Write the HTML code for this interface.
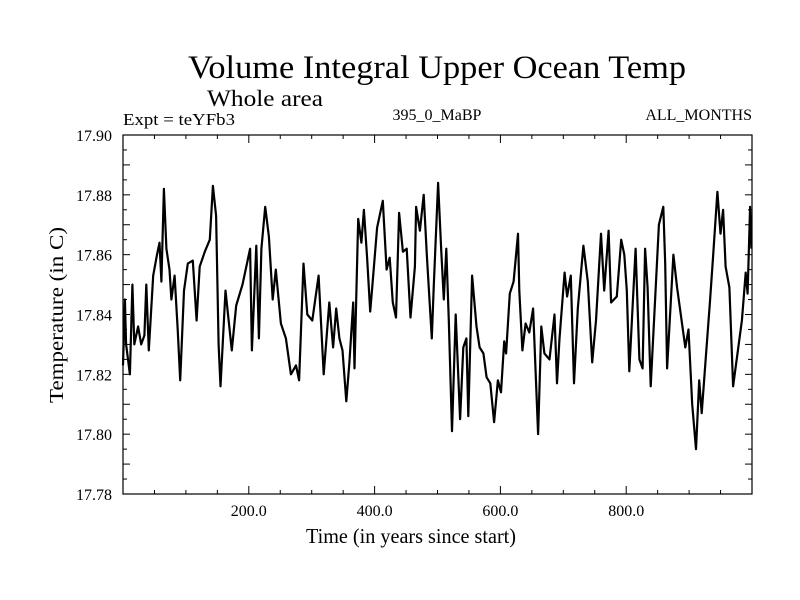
<!DOCTYPE html>
<html><head><meta charset="utf-8"><style>
html,body{margin:0;padding:0;background:#fff;}
svg{display:block;font-family:"Liberation Serif",serif;}
</style></head><body>
<svg id="chart" width="800" height="600" viewBox="0 0 800 600">
<rect width="800" height="600" fill="#fff"/>
<text x="437" y="78" font-size="33" text-anchor="middle" textLength="498" lengthAdjust="spacingAndGlyphs">Volume Integral Upper Ocean Temp</text>
<text x="207" y="106" font-size="23" textLength="116" lengthAdjust="spacingAndGlyphs">Whole area</text>
<text x="123" y="125" font-size="17" textLength="112" lengthAdjust="spacingAndGlyphs">Expt = teYFb3</text>
<text x="437" y="120" font-size="16" text-anchor="middle">395_0_MaBP</text>
<text x="752" y="120" font-size="16" text-anchor="end">ALL_MONTHS</text>
<g id="axes"></g>
<g id="series"></g>
<text x="411" y="543" font-size="21" text-anchor="middle" textLength="210" lengthAdjust="spacingAndGlyphs">Time (in years since start)</text>
<text transform="translate(63,315) rotate(-90)" font-size="20" text-anchor="middle" textLength="176" lengthAdjust="spacingAndGlyphs">Temperature (in C)</text>
</svg>
<script>
const years = [0,3,5,11,15,18,24,29,34,37,41,48,54,58,61,65,69,74,77,82,87,91,97,103,111,117,122,130,138,143,148,152,155,163,173,180,190,202,205,212,216,220,226,232,238,243,251,259,267,275,280,287,293,301,311,319,328,334,339,344,349,355,360,366,368,374,379,383,388,393,397,404,413,419,424,429,434,439,445,451,457,464,466,472,478,483,491,494,501,506,510,514,518,523,529,536,541,546,549,555,562,567,573,578,584,590,596,601,606,609,615,621,628,630,635,640,646,652,660,665,670,678,686,690,694,702,706,712,717,723,732,739,746,752,760,765,772,776,785,792,797,801,805,810,815,821,826,830,834,839,845,852,859,862,865,875,881,888,894,899,905,911,916,920,927,933,938,945,950,954,958,964,970,977,984,990,993,997,999];
const temps = [17.823,17.845,17.830,17.820,17.850,17.830,17.836,17.830,17.833,17.850,17.828,17.853,17.860,17.864,17.851,17.882,17.862,17.855,17.845,17.853,17.835,17.818,17.848,17.857,17.858,17.838,17.856,17.861,17.865,17.883,17.873,17.830,17.816,17.848,17.828,17.843,17.850,17.862,17.828,17.863,17.832,17.862,17.876,17.866,17.845,17.855,17.837,17.832,17.820,17.823,17.818,17.857,17.840,17.838,17.853,17.820,17.844,17.829,17.842,17.832,17.828,17.811,17.824,17.844,17.822,17.872,17.864,17.875,17.859,17.841,17.851,17.869,17.878,17.855,17.859,17.844,17.839,17.874,17.861,17.862,17.839,17.856,17.876,17.868,17.880,17.860,17.832,17.849,17.884,17.861,17.845,17.862,17.838,17.801,17.840,17.805,17.829,17.832,17.806,17.853,17.836,17.829,17.827,17.819,17.817,17.804,17.818,17.814,17.831,17.827,17.847,17.851,17.867,17.848,17.828,17.837,17.834,17.842,17.800,17.836,17.827,17.825,17.840,17.817,17.832,17.854,17.846,17.853,17.817,17.842,17.863,17.851,17.824,17.838,17.867,17.848,17.868,17.844,17.846,17.865,17.860,17.848,17.821,17.842,17.862,17.825,17.822,17.862,17.849,17.816,17.841,17.870,17.876,17.857,17.822,17.860,17.849,17.838,17.829,17.835,17.810,17.795,17.818,17.807,17.827,17.844,17.859,17.881,17.867,17.875,17.856,17.849,17.816,17.827,17.838,17.854,17.847,17.876,17.862];
const xTickLabels = ["200.0","400.0","600.0","800.0"];
const xTickValues = [200,400,600,800];
const yTickLabels = ["17.78","17.80","17.82","17.84","17.86","17.88","17.90"];
const yTickValues = [17.78,17.80,17.82,17.84,17.86,17.88,17.90];

const X0=123,X1=752,Y0=494,Y1=135;
const xMin=0,xMax=1000,yMin=17.78,yMax=17.90;
function sx(v){return X0+(v-xMin)/(xMax-xMin)*(X1-X0);}
function sy(v){return Y0-(v-yMin)/(yMax-yMin)*(Y0-Y1);}
const NS="http://www.w3.org/2000/svg";
const axes=document.getElementById('axes');
const series=document.getElementById('series');
function mk(tag,attrs,parent){const e=document.createElementNS(NS,tag);for(const k in attrs)e.setAttribute(k,attrs[k]);parent.appendChild(e);return e;}

const frame=mk('rect',{x:X0,y:Y1,width:X1-X0,height:Y0-Y1,fill:'none',stroke:'#000','stroke-width':1.2},axes);



for(let v=50;v<xMax;v+=50){
  const major=(v%200===0);
  const L=major?8:4;
  const x=sx(v);
  const t1=mk('line',{x1:x,x2:x,y1:Y0,y2:Y0-L,stroke:'#000','stroke-width':1},axes);
  
  
  const t2=mk('line',{x1:x,x2:x,y1:Y1,y2:Y1+L,stroke:'#000','stroke-width':1},axes);
  
  
}
xTickValues.forEach((v,i)=>{
  const t=mk('text',{x:sx(v),y:516,'font-size':16,'text-anchor':'middle'},axes);
  t.textContent=xTickLabels[i];
  
  
});
for(let k=1;k<24;k++){
  const v=yMin+k*0.005;
  const major=(k%2===0);
  const L=major?7:4;
  const y=sy(v);
  const t1=mk('line',{x1:X0,x2:X0+L,y1:y,y2:y,stroke:'#000','stroke-width':1},axes);
  
  
  const t2=mk('line',{x1:X1,x2:X1-L,y1:y,y2:y,stroke:'#000','stroke-width':1},axes);
  
  
}
yTickValues.forEach((v,i)=>{
  const t=mk('text',{x:112,y:sy(v)+6,'font-size':16,'text-anchor':'end'},axes);
  t.textContent=yTickLabels[i];
  
  
});
let d='';
years.forEach((yr,i)=>{d+=(i?'L':'M')+sx(yr).toFixed(1)+' '+sy(temps[i]).toFixed(1);});
const line=mk('path',{d:d,fill:'none',stroke:'#000','stroke-width':2.2,'stroke-linejoin':'round'},series);


</script>
</body></html>
